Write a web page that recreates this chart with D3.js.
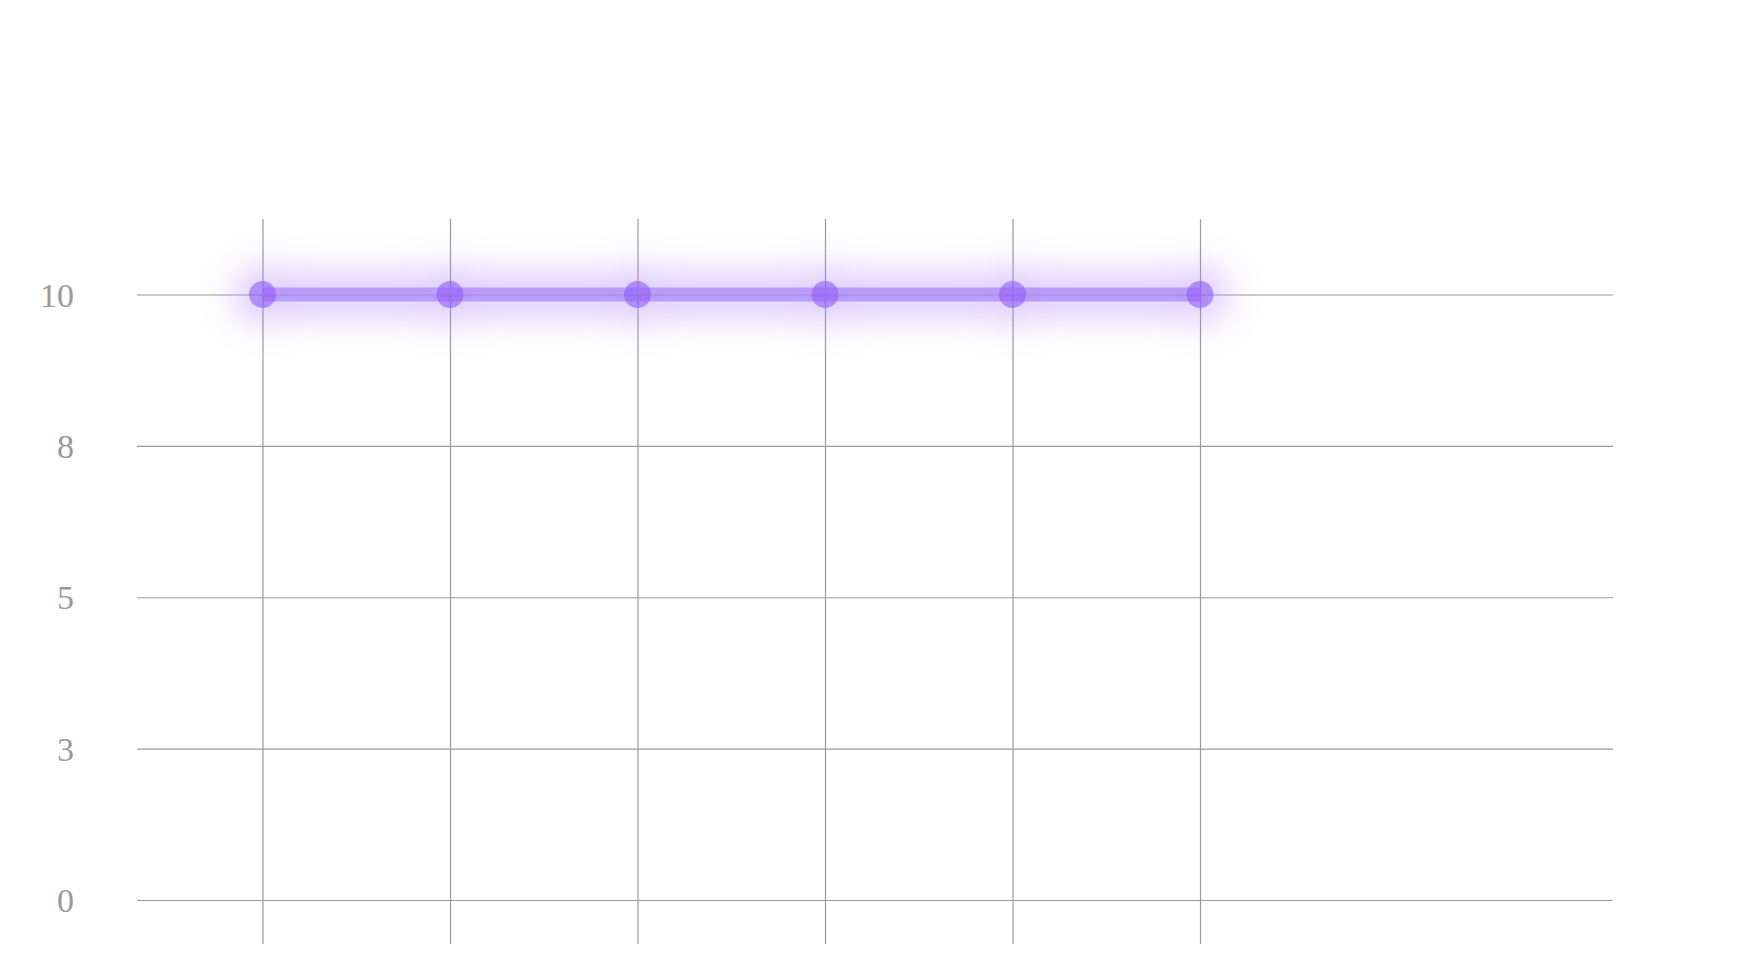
<!DOCTYPE html>
<html><head><meta charset="utf-8">
<script src="https://cdn.jsdelivr.net/npm/d3@7"></script>
<style>html,body{margin:0;padding:0;background:#fff;overflow:hidden}</style>
</head><body>
<svg id="chart" width="1742" height="980"></svg>
<script>
const categories = ["1", "2", "3", "4", "5", "6"];
const values = [10, 10, 10, 10, 10, 10];
const yTickLabels = ["0", "3", "5", "8", "10"];

const svg = d3.select("#chart");
const W = 1742, H = 980;

const x = d3.scalePoint().domain(categories).range([262.5, 1200]);
const y = d3.scalePoint().domain(yTickLabels).range([900, 294.5]);

const gridLeft = 137, gridRight = 1613;
const vTop = 219, vBottom = 944;

const defs = svg.append("defs");
const f = defs.append("filter").attr("id", "glow")
  .attr("filterUnits", "userSpaceOnUse")
  .attr("x", 0).attr("y", 0).attr("width", W).attr("height", H);
f.append("feGaussianBlur").attr("stdDeviation", 18);

// horizontal grid via axis
const yAxis = d3.axisLeft(y).tickSize(-(gridRight - gridLeft)).tickPadding(0);
const gy = svg.append("g").attr("transform", `translate(${gridLeft},0)`).call(yAxis);
gy.select(".domain").remove();
gy.selectAll(".tick line").attr("stroke", "#9a9a9a").attr("stroke-width", 1.2);
gy.selectAll(".tick text")
  .attr("x", 74 - gridLeft)
  .attr("dy", "0.34em")
  .attr("fill", "#999999")
  .style("font-family", "'Liberation Serif', 'Times New Roman', serif")
  .style("font-size", "34px")
  .attr("text-anchor", "end");

// vertical grid via axis
const xAxis = d3.axisTop(x).tickSize(-(vBottom - vTop)).tickFormat("");
const gx = svg.append("g").attr("transform", `translate(0,${vTop})`).call(xAxis);
gx.select(".domain").remove();
gx.selectAll(".tick line").attr("stroke", "#9a9a9a").attr("stroke-width", 1.2);

const data = categories.map((c, i) => ({c, v: values[i]}));
const line = d3.line().x(d => x(d.c)).y(d => y(String(d.v)));

// glow
const glow = svg.append("g").attr("filter", "url(#glow)").attr("opacity", 0.42);
glow.append("path").datum(data).attr("d", line)
  .attr("fill", "none").attr("stroke", "#a57cf7").attr("stroke-width", 40).attr("stroke-linecap", "round");
glow.selectAll("circle").data(data).join("circle")
  .attr("cx", d => x(d.c)).attr("cy", d => y(String(d.v)))
  .attr("r", 28).attr("fill", "#a57cf7");

svg.append("path").datum(data).attr("d", line)
  .attr("fill", "none").attr("stroke", "#ad88f8").attr("stroke-opacity", 0.75)
  .attr("stroke-width", 14);

svg.selectAll("circle.pt").data(data).join("circle")
  .attr("class", "pt")
  .attr("cx", d => x(d.c)).attr("cy", d => y(String(d.v)))
  .attr("r", 13.5)
  .attr("fill", "#8f5cf5").attr("fill-opacity", 0.6);
</script>
</body></html>
